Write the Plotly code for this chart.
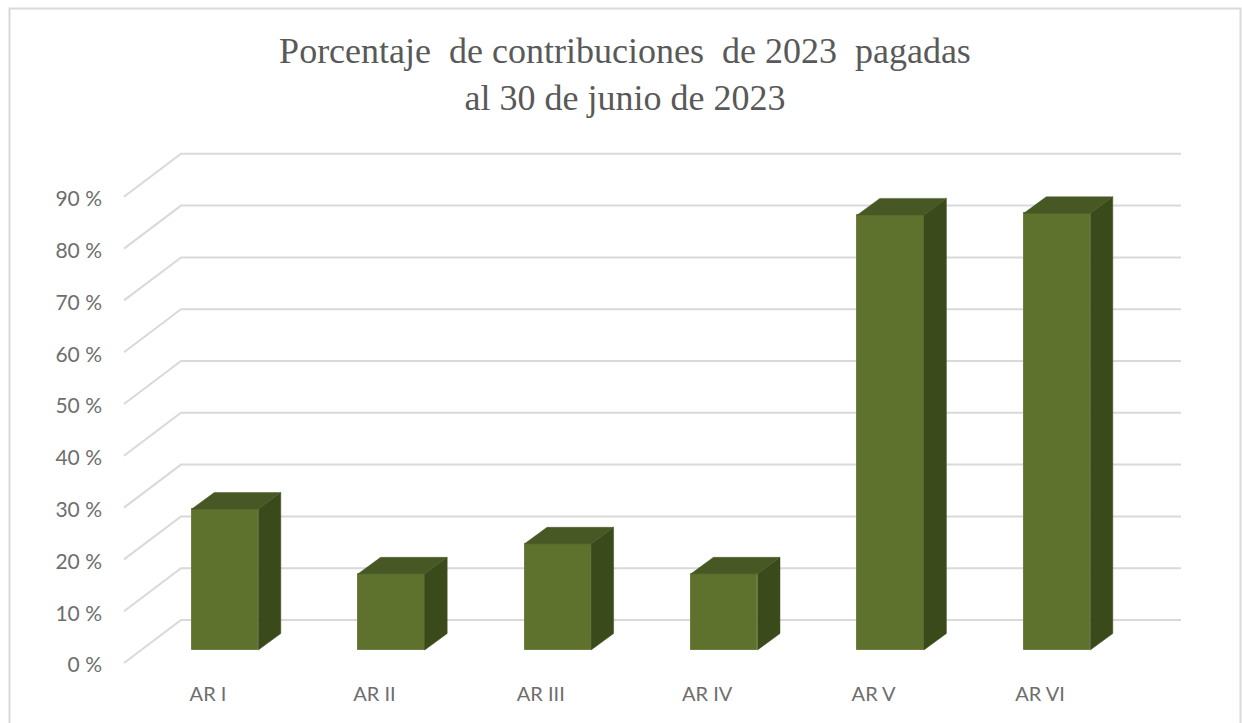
import plotly.graph_objects as go

# ---- data ----
categories = ["AR I", "AR II", "AR III", "AR IV", "AR V", "AR VI"]
paid_percent = [27.2, 14.7, 20.5, 14.7, 84.0, 84.3]
axis_ticks = [0, 10, 20, 30, 40, 50, 60, 70, 80, 90]
axis_labels = ["0 %", "10 %", "20 %", "30 %", "40 %", "50 %", "60 %", "70 %", "80 %", "90 %"]
title_lines = ["Porcentaje  de contribuciones  de 2023  pagadas", "al 30 de junio de 2023"]

# ---- canvas and projection set-up ----
W, H = 1242, 723
PX_PER_CAT = 166.4      # pixels per category
PX_PER_PCT = 5.18       # pixels per percentage point
BAR_WIDTH = 0.4         # in category units
BAR_DX = 22.5 / PX_PER_CAT   # depth of a bar along x
BAR_DY = 16.5 / PX_PER_PCT   # depth of a bar along y
BAR_X0, BAR_Y0 = 225.0, 650.0     # pixel of first bar centre / of 0 %
LAB_X0, LAB_Y0 = 208.0, 665.0     # pixel of first category label / of 0 % label
WALL_LEFT_FRONT = (124 - LAB_X0) / PX_PER_CAT
WALL_LEFT_BACK = (181 - LAB_X0) / PX_PER_CAT
WALL_RIGHT = (1181 - LAB_X0) / PX_PER_CAT
WALL_DROP = 2.0 / PX_PER_PCT      # diagonal ends slightly above the label centres
WALL_RISE = 43.0 / PX_PER_PCT

GRID = "#D9D9D9"
FRONT = "#5E722E"
SIDE = "#3B4A1B"
TOP = "#475825"
TEXT = "#6E6E6E"

fig = go.Figure()

# Walls: on the main subplot, whose y scale puts the tick labels by the diagonal ends
for t in axis_ticks:
    fig.add_trace(go.Scatter(
        x=[WALL_LEFT_FRONT, WALL_LEFT_BACK, WALL_RIGHT],
        y=[t + WALL_DROP, t + WALL_DROP + WALL_RISE, t + WALL_DROP + WALL_RISE],
        mode="lines", line=dict(color=GRID, width=2),
        hoverinfo="skip", showlegend=False, xaxis="x", yaxis="y"))

# Bars: on the overlay subplot, drawn over the walls
positions = list(range(len(categories)))
fig.add_trace(go.Bar(
    x=positions, y=paid_percent, width=BAR_WIDTH,
    marker=dict(color=FRONT, line=dict(color="#6C7F3E", width=1)),
    showlegend=False, xaxis="x2", yaxis="y2"))

for p, v in zip(positions, paid_percent):
    r = p + BAR_WIDTH / 2
    l = p - BAR_WIDTH / 2
    # right-hand face
    fig.add_trace(go.Scatter(
        x=[r, r + BAR_DX, r + BAR_DX, r, r],
        y=[0, BAR_DY, v + BAR_DY, v, 0],
        mode="lines", fill="toself", fillcolor=SIDE, line=dict(color=SIDE, width=0.5),
        hoverinfo="skip", showlegend=False, xaxis="x2", yaxis="y2"))
    # top face
    fig.add_trace(go.Scatter(
        x=[l, l + BAR_DX, r + BAR_DX, r, l],
        y=[v, v + BAR_DY, v + BAR_DY, v, v],
        mode="lines", fill="toself", fillcolor=TOP, line=dict(color=TOP, width=0.5),
        hoverinfo="skip", showlegend=False, xaxis="x2", yaxis="y2"))

cat_font = dict(family="Lato, Carlito, sans-serif", size=20, color=TEXT)
val_font = dict(family="Lato, Carlito, sans-serif", size=21, color=TEXT)

fig.update_layout(
    width=W, height=H, autosize=False,
    margin=dict(l=0, r=0, t=0, b=0, pad=0),
    paper_bgcolor="white", plot_bgcolor="white",
    showlegend=False, bargap=0,
    title=dict(
        text="<br>".join(title_lines),
        font=dict(family="Liberation Serif, Times New Roman, serif", size=36, color="#595959"),
        x=625 / W, xanchor="center", xref="paper",
        y=1 - 63 / H, yanchor="top", yref="container"),
    xaxis=dict(
        domain=[0, 1], range=[-LAB_X0 / PX_PER_CAT, (W - LAB_X0) / PX_PER_CAT],
        tickmode="array", tickvals=positions, ticktext=categories,
        anchor="free", position=1 - 680 / H, side="bottom",
        showgrid=False, zeroline=False, showline=False, ticks="", tickfont=cat_font),
    yaxis=dict(
        domain=[0, 1], range=[(LAB_Y0 - H) / PX_PER_PCT, LAB_Y0 / PX_PER_PCT],
        tickmode="array", tickvals=axis_ticks, ticktext=axis_labels,
        anchor="free", position=102 / W, side="left",
        showgrid=False, zeroline=False, showline=False, ticks="", tickfont=val_font),
    xaxis2=dict(
        domain=[0, 1], overlaying="x", visible=False, anchor="y2",
        range=[-BAR_X0 / PX_PER_CAT, (W - BAR_X0) / PX_PER_CAT]),
    yaxis2=dict(
        domain=[0, 1], overlaying="y", visible=False, anchor="x2",
        range=[(BAR_Y0 - H) / PX_PER_PCT, BAR_Y0 / PX_PER_PCT]),
    shapes=[dict(
        type="path", xref="paper", yref="paper",
        path=f"M {9.5 / W} 0 L {9.5 / W} {1 - 8.5 / H} L {1240.5 / W} {1 - 8.5 / H} L {1240.5 / W} 0",
        line=dict(color=GRID, width=2), layer="below")],
)

fig.write_html("out.html", config={"displayModeBar": False},
               post_script="document.body.style.margin='0';")
